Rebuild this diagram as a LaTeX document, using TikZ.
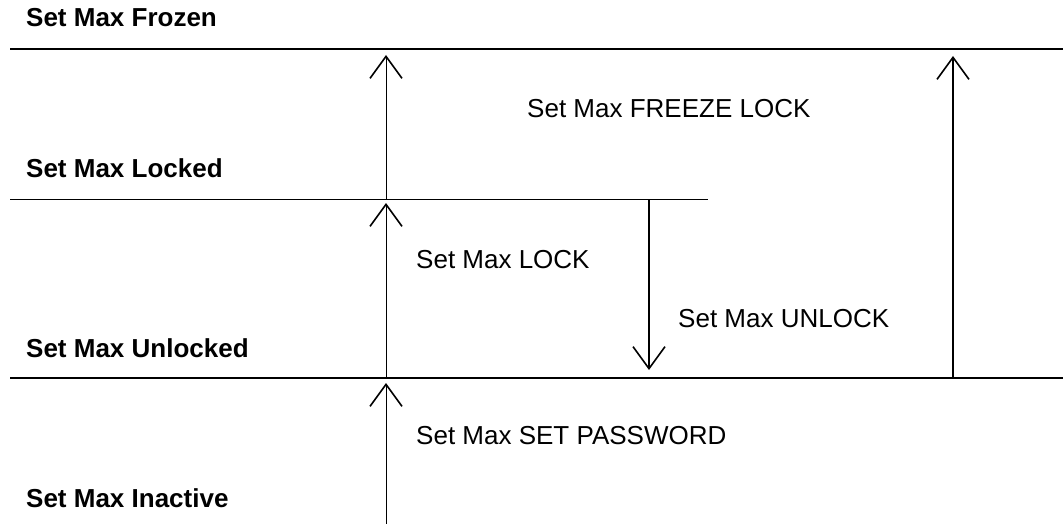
\documentclass[tikz,border=0pt]{standalone}
\usepackage{fontspec}
\setmainfont{Liberation Sans}
\usetikzlibrary{arrows.meta}
\begin{document}
\begin{tikzpicture}[x=1pt,y=-1pt,
  state/.style={anchor=base west,inner sep=0pt,font=\fontsize{26}{30}\selectfont\bfseries},
  cmd/.style={anchor=base west,inner sep=0pt,font=\fontsize{26}{30}\selectfont},
  thinline/.style={line width=1pt},
  thickline/.style={line width=2pt},
  barb/.style={-{Straight Barb[length=22pt,width=32pt,line width=1.6pt]}}]
\fill[white] (0,0) rectangle (1063,524);
\useasboundingbox (0,0) rectangle (1063,524);
% level lines
\coordinate (f1) at (10,49);   \coordinate (f2) at (1063,49);
\coordinate (l1) at (10,199);  \coordinate (l2) at (708,199);
\coordinate (u1) at (10,378);  \coordinate (u2) at (1063,378);
\draw[thickline] (f1) -- (f2);
\draw[thinline] (l1) -- (l2);
\draw[thickline] (u1) -- (u2);
% state labels
\node[state] (sFrozen) at (26,27) {Set Max Frozen};
\node[state] (sLocked) at (26,177) {Set Max Locked};
\node[state] (sUnlocked) at (26,357) {Set Max Unlocked};
\node[state] (sInactive) at (26,507) {Set Max Inactive};
% arrow endpoints
\coordinate (a1s) at (386,199); \coordinate (a1e) at (386,55);
\coordinate (a2s) at (386,378); \coordinate (a2e) at (386,203);
\coordinate (a3s) at (386,524); \coordinate (a3e) at (386,383);
\coordinate (dns) at (649,199); \coordinate (dne) at (649,370);
\coordinate (rs)  at (953,378); \coordinate (re)  at (953,56);
\draw[thinline,barb] (a1s) -- (a1e);
\draw[thinline,barb] (a2s) -- (a2e);
\draw[thinline,barb] (a3s) -- (a3e);
\draw[thickline,barb] (dns) -- (dne);
\draw[thickline,barb] (rs) -- (re);
% command labels
\node[cmd] (cFreeze) at (527,118) {Set Max FREEZE LOCK};
\node[cmd] (cLock) at (416,268) {Set Max LOCK};
\node[cmd] (cUnlock) at (678,327) {Set Max UNLOCK};
\node[cmd] (cPass) at (416,444) {Set Max SET PASSWORD};
\end{tikzpicture}
\end{document}
